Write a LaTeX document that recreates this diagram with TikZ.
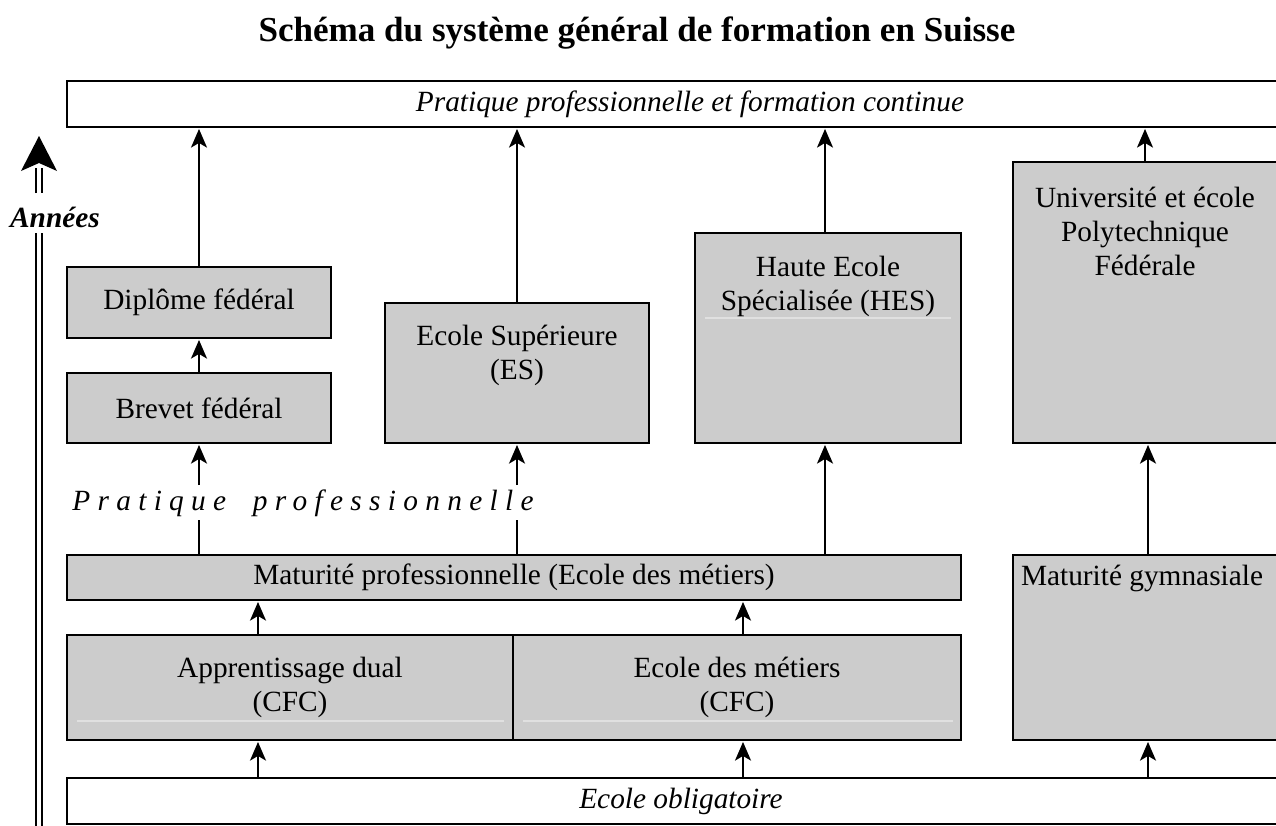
\documentclass[tikz,border=0pt]{standalone}
\usepackage{fontspec}
\setmainfont{Liberation Serif}
\usetikzlibrary{arrows.meta,fit,calc}
\newcommand\bodyfont{\fontsize{22}{25.5}\selectfont}
\begin{document}
\begin{tikzpicture}[x=0.75pt,y=-0.75pt,
  box/.style={draw=black, line width=0.9pt, fill=black!20, inner sep=0pt},
  whitebox/.style={box, fill=white},
  txt/.style={font=\bodyfont, align=center, inner sep=0pt},
  itxt/.style={font=\bodyfont\itshape, align=center, inner sep=0pt},
  arr/.style={line width=1.35pt, shorten >=1pt, -{Stealth[length=14pt,width=12pt,inset=3.5pt]}},
  ln/.style={line width=1.35pt},
  faint/.style={black!12, line width=0.8pt},
]
\useasboundingbox (0,0) rectangle (1276,825);
\clip (0,0) rectangle (1276,825);

% title
\node[font=\fontsize{26.3}{30}\selectfont\bfseries] (title) at (637,33) {Schéma du système général de formation en Suisse};

% boxes
\node[whitebox, fit={(67,81)(1313,127)}, label={[itxt]center:Pratique professionnelle et formation continue}] (top) {};
\node[box, fit={(67,267)(331,338)}, label={[txt]center:Diplôme fédéral}] (dip) {};
\node[box, fit={(67,373)(331,443)}, label={[txt]center:Brevet fédéral}] (bre) {};
\node[box, fit={(385,303)(649,443)}] (es) {};
\node[box, fit={(695,233)(961,443)}] (hes) {};
\node[box, fit={(1013,162)(1277,443)}] (univ) {};
\node[box, fit={(67,555)(961,600)}, label={[txt]center:Maturité professionnelle (Ecole des métiers)}] (matpro) {};
\node[box, fit={(1013,555)(1277,740)}] (matgym) {};
\node[box, fit={(67,635)(513,740)}, label={[txt]center:Apprentissage dual\\(CFC)}] (appr) {};
\node[box, fit={(513,635)(961,740)}, label={[txt]center:Ecole des métiers\\(CFC)}] (ecm) {};
\node[whitebox, fit={(67,778)(1295,824)}, label={[itxt]center:Ecole obligatoire}] (ob) {};

% faint lines inside boxes
\draw[faint] (77,721) -- (504,721);
\draw[faint] (523,721) -- (953,721);
\draw[faint] (705,318) -- (951,318);

% texts of top-aligned boxes
\node[txt] (estxt) at (517,355) {Ecole Supérieure\\(ES)};
\node[txt] (hestxt) at (828,286) {Haute Ecole\\Spécialisée (HES)};
\node[txt] (univtxt) at (1145,231) {Université et école\\Polytechnique\\Fédérale};
\node[txt] (mgtxt) at (1142,578) {Maturité gymnasiale};

% Pratique professionnelle
\node[font=\bodyfont\itshape\addfontfeature{LetterSpace=25}, inner sep=0pt] (prat) at (303,503) {Pratique\hspace{9pt} professionnelle};

% x positions of connectors
\coordinate (xa) at (199,0);
\coordinate (xb) at (517,0);
\coordinate (xc) at (825,0);
\coordinate (xd) at (1145,0);
\coordinate (xe) at (258,0);
\coordinate (xf) at (743,0);
\coordinate (xg) at (1148,0);
\coordinate (pup) at (0,485);
\coordinate (plo) at (0,520);

% arrows to top box
\draw[arr] (dip.north -| xa) -- (top.south -| xa);
\draw[arr] (es.north -| xb) -- (top.south -| xb);
\draw[arr] (hes.north -| xc) -- (top.south -| xc);
\draw[arr] (univ.north -| xd) -- (top.south -| xd);

\draw[arr] (bre.north -| xa) -- (dip.south -| xa);

% through "Pratique professionnelle"
\draw[ln] (matpro.north -| xa) -- (plo -| xa);
\draw[arr] (pup -| xa) -- (bre.south -| xa);
\draw[ln] (matpro.north -| xb) -- (plo -| xb);
\draw[arr] (pup -| xb) -- (es.south -| xb);

\draw[arr] (matpro.north -| xc) -- (hes.south -| xc);
\draw[arr] (matgym.north -| xg) -- (univ.south -| xg);

\draw[arr] (appr.north -| xe) -- (matpro.south -| xe);
\draw[arr] (ecm.north -| xf) -- (matpro.south -| xf);

\draw[arr] (ob.north -| xe) -- (appr.south -| xe);
\draw[arr] (ob.north -| xf) -- (ecm.south -| xf);
\draw[arr] (ob.north -| xg) -- (matgym.south -| xg);

% Années axis
\node[font=\bodyfont\bfseries\itshape, inner sep=0pt] (annees) at (55,217) {Années};
\coordinate (axbot) at (39,830);
\coordinate (axlow) at (39,233);
\coordinate (axhigh) at (39,193);
\coordinate (axhead) at (39,168);
\draw[line width=1.5pt, double distance=3pt] (axbot) -- (axlow);
\draw[line width=1.5pt, double distance=3pt] (axhigh) -- (axhead);
\fill (39,136) -- (57,171) -- (39,163) -- (21,171) -- cycle;
\end{tikzpicture}
\end{document}
